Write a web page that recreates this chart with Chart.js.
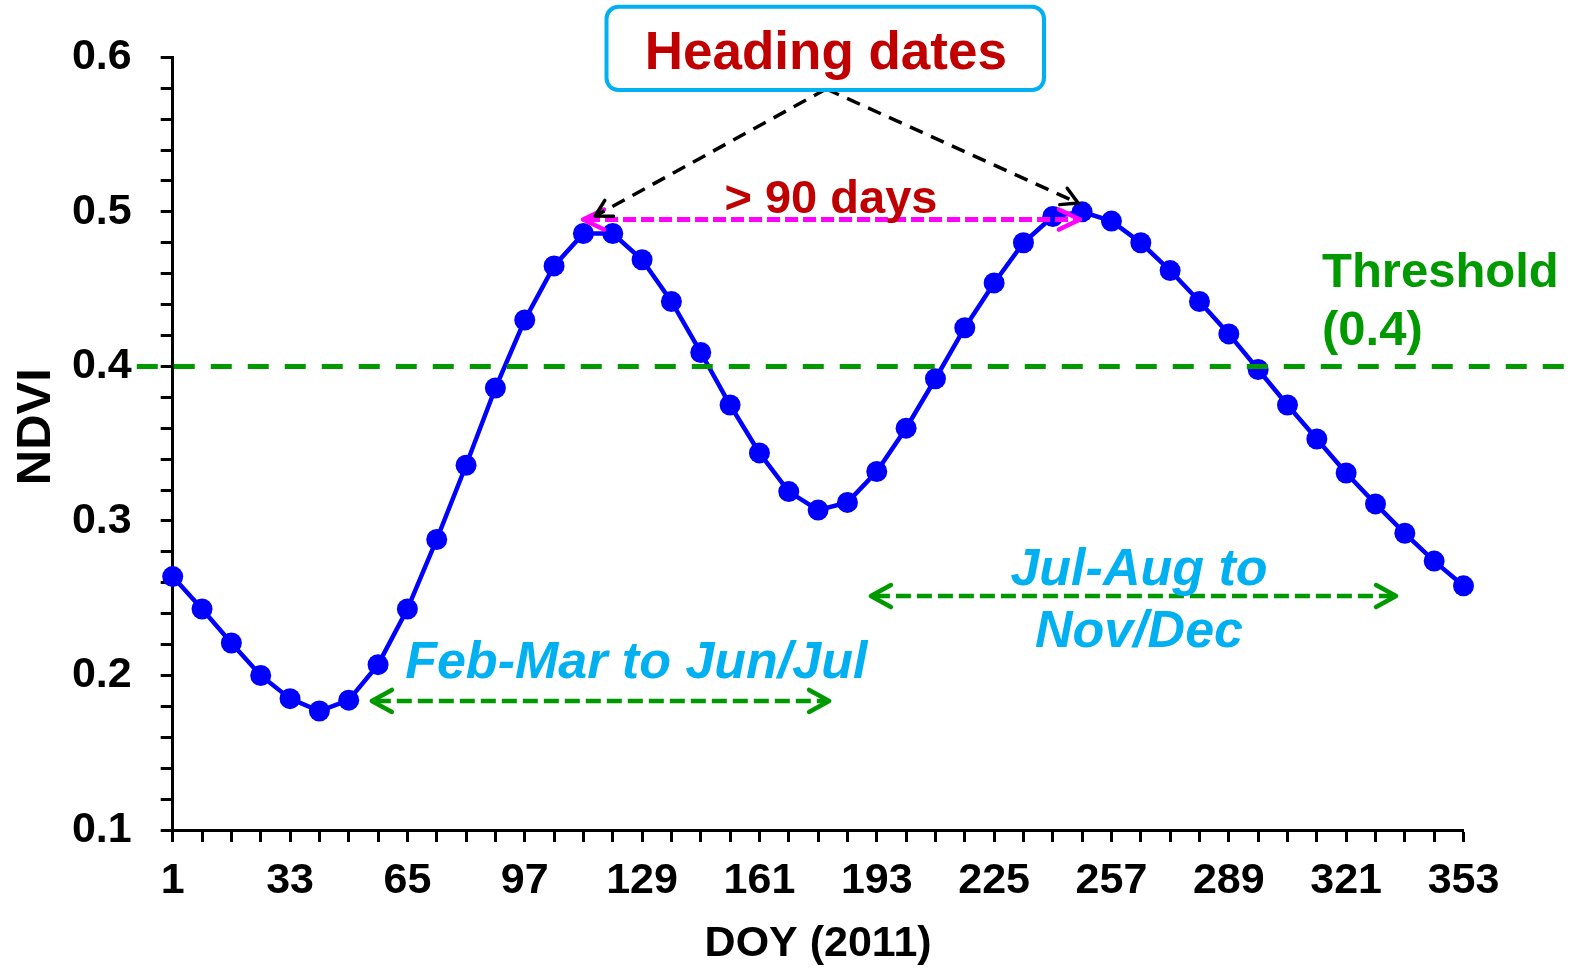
<!DOCTYPE html>
<html><head><meta charset="utf-8">
<script src="https://cdn.jsdelivr.net/npm/chart.js@4.4.1/dist/chart.umd.min.js"></script>
<style>html,body{margin:0;padding:0;background:#fff;}canvas{display:block;}</style>
</head><body>
<canvas id="c" width="1585" height="973"></canvas>
<script>
// ---- data ----
const doy = [1,9,17,25,33,41,49,57,65,73,81,89,97,105,113,121,129,137,145,153,161,169,177,185,193,201,209,217,225,233,241,249,257,265,273,281,289,297,305,313,321,329,337,345,353];
const ndvi = [0.264,0.243,0.221,0.200,0.185,0.177,0.184,0.207,0.243,0.288,0.336,0.386,0.430,0.465,0.486,0.486,0.469,0.442,0.409,0.375,0.344,0.319,0.307,0.312,0.332,0.360,0.392,0.425,0.454,0.480,0.497,0.500,0.494,0.480,0.462,0.442,0.421,0.398,0.375,0.353,0.331,0.311,0.292,0.274,0.258];
const xTickLabels = [1,33,65,97,129,161,193,225,257,289,321,353];
const yTickLabels = [0.1,0.2,0.3,0.4,0.5,0.6];
const thresholdValue = 0.4;
const headingDates = [113, 249];

const FONT = '"Liberation Sans", Arial, Helvetica, sans-serif';
const GREEN = '#009900', CYAN = '#00B0F0', DARKRED = '#C00000', MAGENTA = '#FF00FF', BLUE = '#0000FF';

function head(ctx, tx, ty, fx, fy, len, half) {
  const dx = fx - tx, dy = fy - ty, d = Math.hypot(dx, dy);
  const ux = dx / d, uy = dy / d, px = -uy, py = ux;
  ctx.save();
  ctx.setLineDash([]);
  ctx.lineCap = 'round'; ctx.lineJoin = 'round';
  ctx.beginPath();
  ctx.moveTo(tx + ux * len + px * half, ty + uy * len + py * half);
  ctx.lineTo(tx, ty);
  ctx.lineTo(tx + ux * len - px * half, ty + uy * len - py * half);
  ctx.stroke();
  ctx.restore();
}
function dashed(ctx, x1, y1, x2, y2, dash, color, width) {
  ctx.save();
  ctx.strokeStyle = color; ctx.lineWidth = width; ctx.setLineDash(dash); ctx.lineCap = 'butt';
  ctx.beginPath(); ctx.moveTo(x1, y1); ctx.lineTo(x2, y2); ctx.stroke();
  ctx.restore();
}

const annPlugin = {
  id: 'ann',
  afterDatasetsDraw(chart) {
    const ctx = chart.ctx, xs = chart.scales.x, ys = chart.scales.y;
    const X = v => xs.getPixelForValue(v), Y = v => ys.getPixelForValue(v);
    ctx.save();
    // threshold line
    dashed(ctx, X(-8.8), Y(thresholdValue), X(384), Y(thresholdValue), [21, 16], GREEN, 5);

    // season arrows (green, double headed)
    const seasonArrows = [[55.3, 180, 0.1835], [191.4, 334.6, 0.2514]];
    seasonArrows.forEach(([a, b, v]) => {
      const x1 = X(a), x2 = X(b), yy = Y(v);
      dashed(ctx, x1 + 4, yy, x2 - 4, yy, [15, 6], GREEN, 4.5);
      ctx.strokeStyle = GREEN; ctx.lineWidth = 4.5;
      head(ctx, x1, yy, x2, yy, 20, 11);
      head(ctx, x2, yy, x1, yy, 20, 11);
    });

    // magenta interval arrow between heading dates
    {
      const x1 = X(headingDates[0] - 0.1), x2 = X(headingDates[1] - 0.6), yy = Y(0.495);
      dashed(ctx, x1 + 4, yy, x2 - 4, yy, [13, 5], MAGENTA, 5);
      ctx.strokeStyle = MAGENTA; ctx.lineWidth = 4.5;
      head(ctx, x1, yy, x2, yy, 21, 10);
      head(ctx, x2, yy, x1, yy, 21, 10);
    }

    // black pointers from the label box
    {
      const ax = X(179.2), ay = Y(0.5795);
      const ends = [[116.2, 0.4973], [247.9, 0.5057]];
      ends.forEach(([a, v]) => {
        const ex = X(a), ey = Y(v);
        dashed(ctx, ax, ay, ex, ey, [14, 9], '#000', 3.5);
        ctx.strokeStyle = '#000'; ctx.lineWidth = 3.5;
        head(ctx, ex, ey, ax, ay, 16, 9);
      });
    }

    // label box
    {
      const bx1 = X(119.3), bx2 = X(238.6), by1 = Y(0.6327), by2 = Y(0.5788);
      ctx.beginPath();
      ctx.roundRect(bx1, by1, bx2 - bx1, by2 - by1, 12);
      ctx.fillStyle = '#fff'; ctx.fill();
      ctx.lineWidth = 4; ctx.strokeStyle = CYAN; ctx.setLineDash([]); ctx.stroke();
      ctx.fillStyle = DARKRED; ctx.font = 'bold 53px ' + FONT;
      ctx.textAlign = 'center'; ctx.textBaseline = 'alphabetic';
      ctx.fillText('Heading dates', X(179.1), Y(0.5922));
    }

    ctx.textBaseline = 'alphabetic';
    // > 90 days
    ctx.fillStyle = DARKRED; ctx.font = 'bold 47px ' + FONT; ctx.textAlign = 'center';
    ctx.fillText('> 90 days', X(180.5), Y(0.4993));

    // threshold label
    ctx.fillStyle = GREEN; ctx.font = 'bold 49px ' + FONT; ctx.textAlign = 'left';
    ctx.fillText('Threshold', X(314.4), Y(0.4514));
    ctx.fillText('(0.4)', X(314.4), Y(0.4138));

    // season labels
    ctx.fillStyle = CYAN; ctx.font = 'italic bold 52px ' + FONT;
    ctx.textAlign = 'left';
    ctx.fillText('Feb-Mar to Jun/Jul', X(64.4), Y(0.1984));
    ctx.textAlign = 'center';
    ctx.fillText('Jul-Aug to', X(264.5), Y(0.2585));
    ctx.fillText('Nov/Dec', X(264.5), Y(0.2184));

    // y axis title
    ctx.save();
    ctx.fillStyle = '#000'; ctx.font = 'bold 49px ' + FONT;
    ctx.textAlign = 'center'; ctx.textBaseline = 'middle';
    ctx.translate(chart.chartArea.left - 136.5, Y(0.361));
    ctx.rotate(-Math.PI / 2);
    ctx.fillText('NDVI', 0, 0);
    ctx.restore();

    ctx.restore();
  }
};

new Chart(document.getElementById('c'), {
  type: 'line',
  data: {
    datasets: [{
      data: doy.map((d, i) => ({x: d, y: ndvi[i]})),
      borderColor: BLUE,
      backgroundColor: BLUE,
      borderWidth: 4.5,
      pointRadius: 10.5,
      pointHoverRadius: 10.5,
      pointBorderWidth: 0,
      pointBackgroundColor: BLUE,
      tension: 0,
      clip: false
    }]
  },
  options: {
    responsive: false,
    animation: false,
    devicePixelRatio: 1,
    events: [],
    layout: {padding: {left: 0, top: 57.3, right: 121.5, bottom: 0}},
    plugins: {legend: {display: false}, tooltip: {enabled: false}},
    scales: {
      x: {
        type: 'linear',
        min: 1, max: 353,
        afterFit: s => { s.height = 143; },
        border: {display: true, color: '#000', width: 3},
        grid: {display: true, drawOnChartArea: false, drawTicks: true, tickLength: 12, tickWidth: 3, tickColor: '#000'},
        ticks: {
          stepSize: 8, autoSkip: false, maxRotation: 0, padding: 13,
          color: '#000', font: {family: FONT, size: 43, weight: 'bold'},
          callback: v => xTickLabels.includes(v) ? String(v) : ''
        },
        title: {display: true, text: 'DOY (2011)', color: '#000', font: {family: FONT, size: 43, weight: 'bold'}, padding: {top: 0, bottom: 3}}
      },
      y: {
        type: 'linear',
        min: 0.1, max: 0.6,
        afterFit: s => { s.width = 172.7; },
        border: {display: true, color: '#000', width: 3},
        grid: {display: true, drawOnChartArea: false, drawTicks: true, tickLength: 12, tickWidth: 3, tickColor: '#000'},
        ticks: {
          stepSize: 0.02, autoSkip: false, padding: 29,
          color: '#000', font: {family: FONT, size: 43, weight: 'bold'},
          callback: v => yTickLabels.some(t => Math.abs(t - v) < 1e-9) ? v.toFixed(1) : ''
        }
      }
    }
  },
  plugins: [annPlugin]
});
</script>
</body></html>
